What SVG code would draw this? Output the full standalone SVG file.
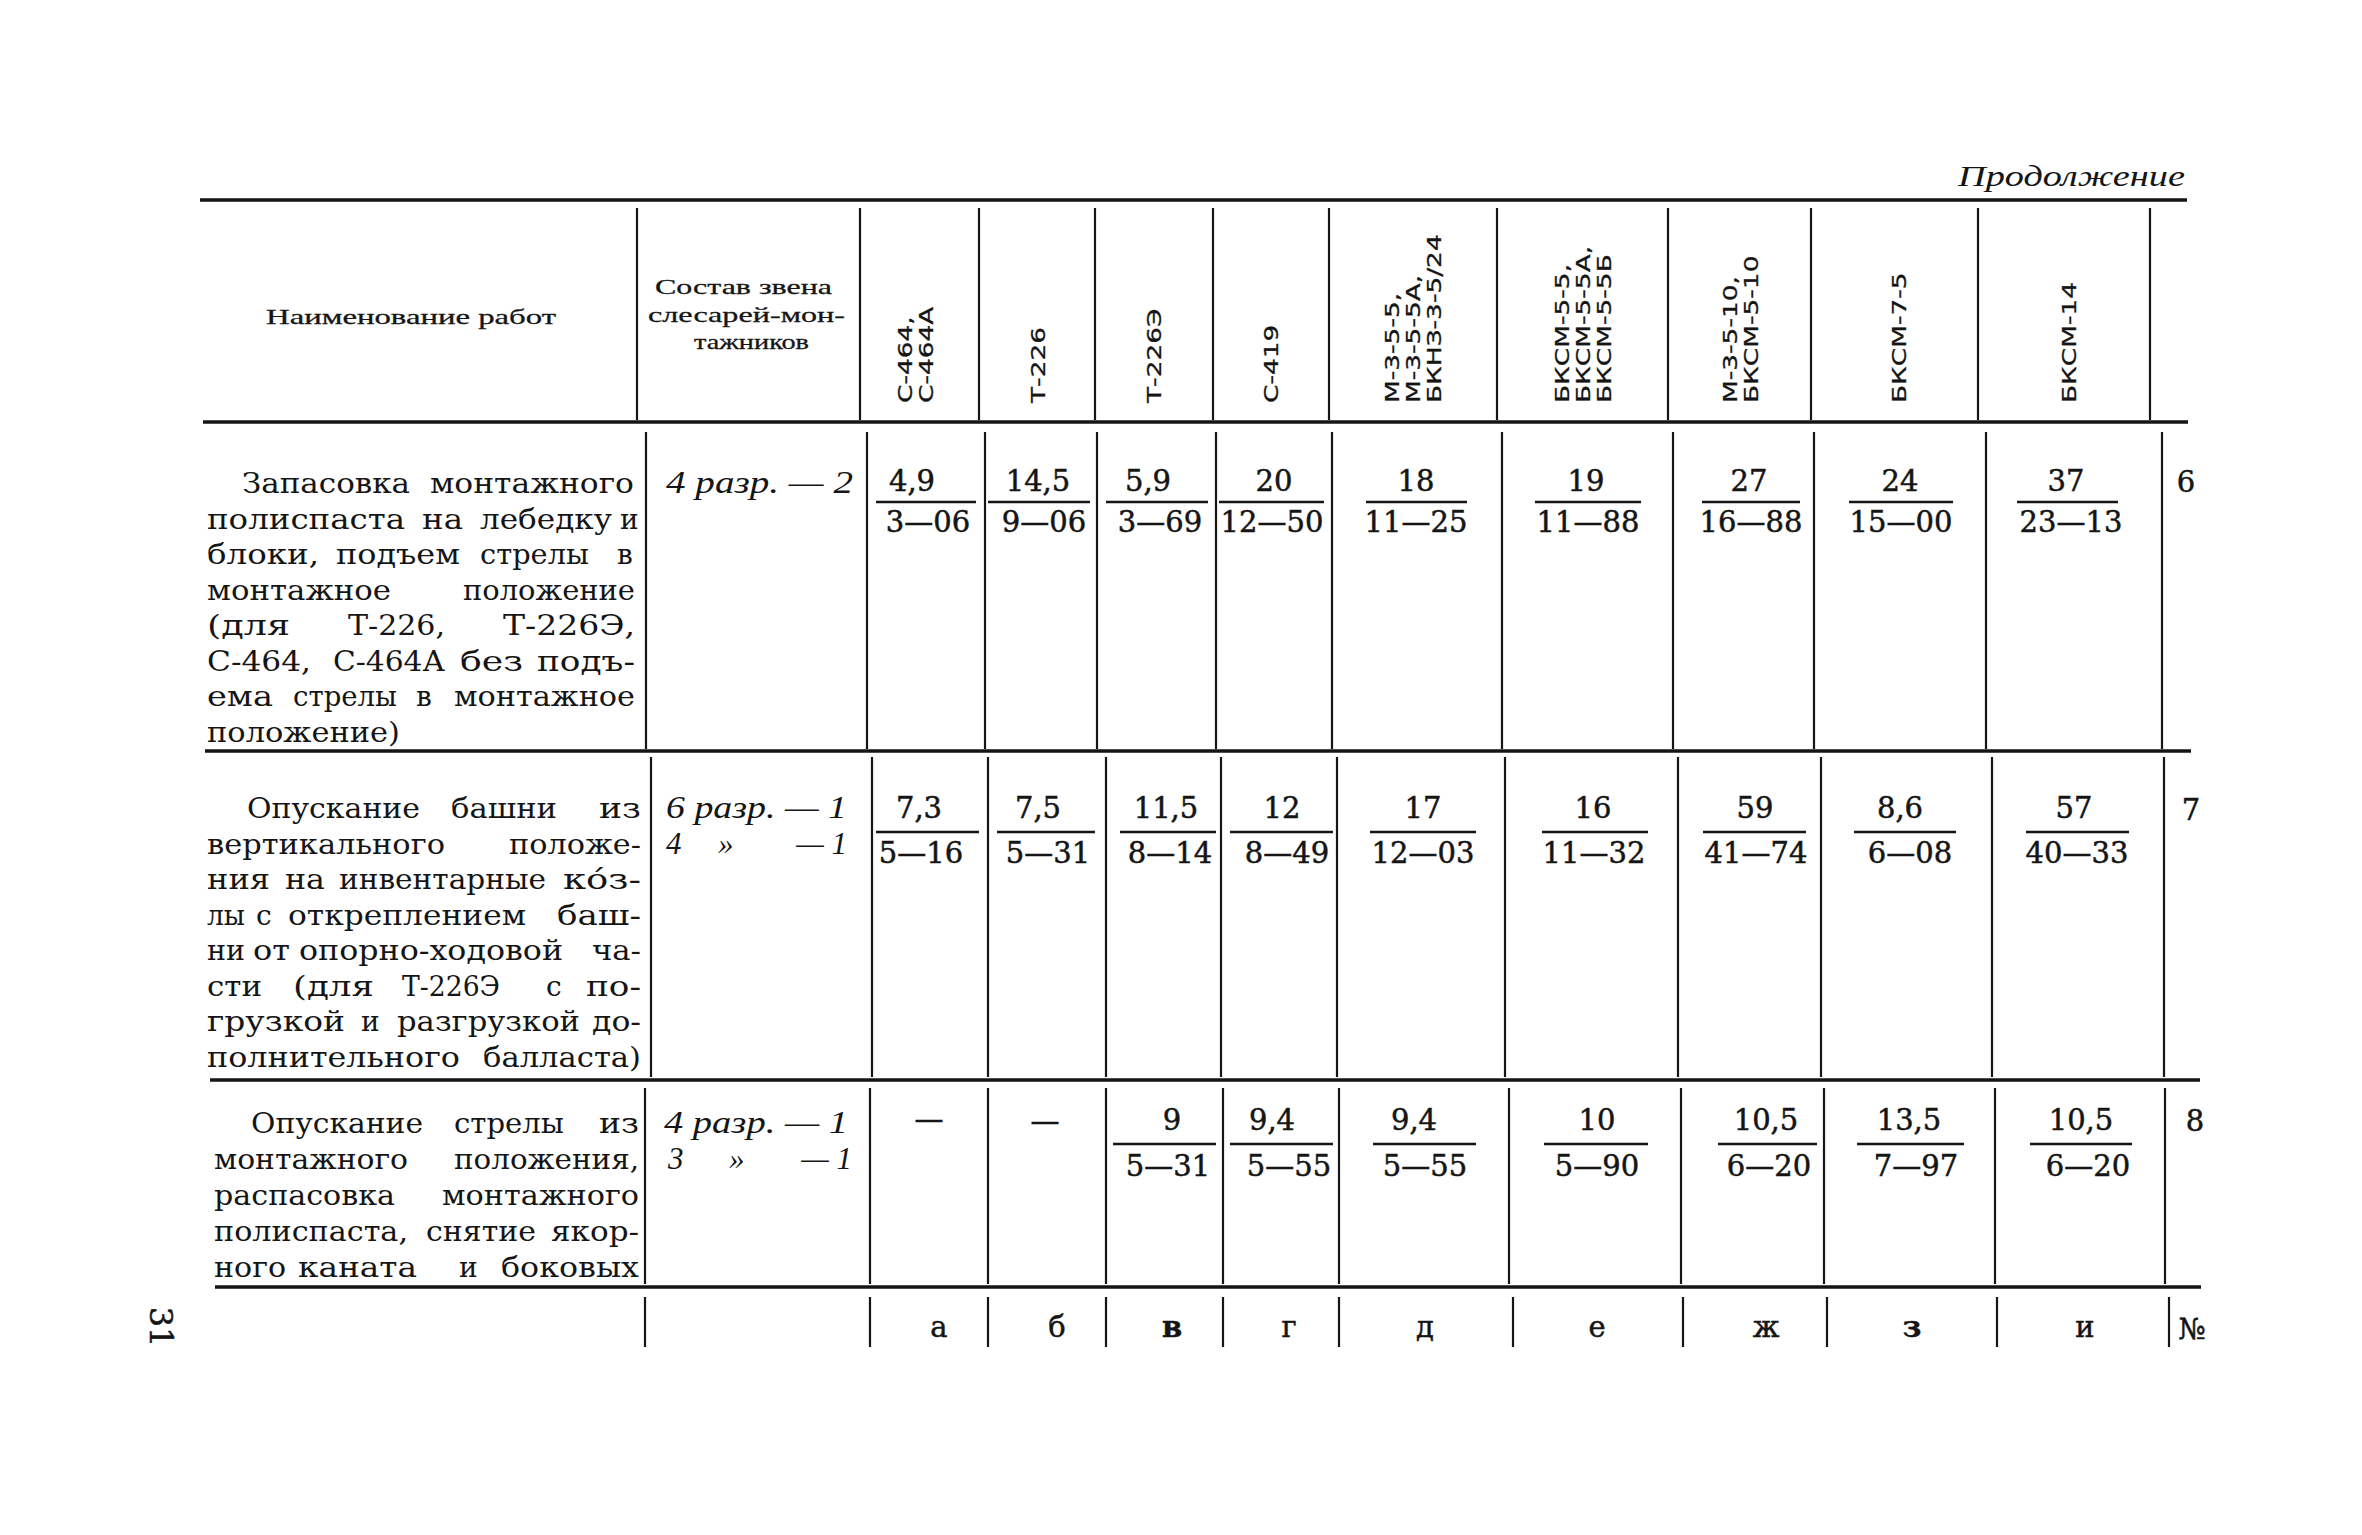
<svg xmlns="http://www.w3.org/2000/svg" width="2362" height="1535" viewBox="0 0 2362 1535">
<style>
.g{stroke:#151515;stroke-width:2.2;fill:none}
.h{stroke:#151515;stroke-width:3.4;fill:none}
.bar{stroke:#151515;stroke-width:2.6}
text{fill:#151515}
.b{font-family:"DejaVu Serif","Liberation Serif",serif;font-size:28px}
.n{font-family:"DejaVu Serif","Liberation Serif",serif;font-size:29px;text-anchor:middle;stroke:#151515;stroke-width:0.5}
.i{font-family:"Liberation Serif",serif;font-style:italic;font-size:31px}
.r{font-family:"DejaVu Sans","Liberation Sans",sans-serif;font-size:20px;stroke:#151515;stroke-width:0.3}
.hd{font-family:"Liberation Serif",serif;font-size:22px;stroke:#151515;stroke-width:0.3}
.e{text-anchor:end}
.m{text-anchor:middle}
.bo{font-weight:bold}
</style>
<rect width="2362" height="1535" fill="#ffffff"/>

<g id="title">
<text class="i" x="1958" y="186" textLength="227" lengthAdjust="spacingAndGlyphs" style="font-size:29px">Продолжение</text>
</g>

<g id="grid">
<line class="h" x1="200" y1="200" x2="2187" y2="200"/>
<line class="h" x1="203" y1="422" x2="2188" y2="422"/>
<line class="h" x1="205" y1="751" x2="2191" y2="751"/>
<line class="h" x1="210" y1="1080" x2="2200" y2="1080"/>
<line class="h" x1="215" y1="1287" x2="2201" y2="1287"/>
<path class="g" d="M637 208V420M860 208V420M979 208V420M1095 208V420M1213 208V420M1329 208V420M1497 208V420M1668 208V420M1811 208V420M1978 208V420M2150 208V420"/>
<path class="g" d="M646 432V749M867 432V749M985 432V749M1097 432V749M1216 432V749M1332 432V749M1502 432V749M1673 432V749M1814 432V749M1986 432V749M2162 432V749"/>
<path class="g" d="M651 757V1077M872 757V1077M988 757V1077M1106 757V1077M1221 757V1077M1337 757V1077M1505 757V1077M1678 757V1077M1821 757V1077M1992 757V1077M2164 757V1077"/>
<path class="g" d="M645 1088V1284M870 1088V1284M988 1088V1284M1106 1088V1284M1223 1088V1284M1339 1088V1284M1509 1088V1284M1681 1088V1284M1824 1088V1284M1995 1088V1284M2165 1088V1284"/>
<path class="g" d="M645 1297V1347M870 1297V1347M988 1297V1347M1106 1297V1347M1223 1297V1347M1339 1297V1347M1513 1297V1347M1683 1297V1347M1827 1297V1347M1997 1297V1347M2169 1297V1347"/>
</g>

<g id="header">
<text class="hd" x="266" y="324" textLength="290" lengthAdjust="spacingAndGlyphs">Наименование работ</text>
<text class="hd" x="655" y="294" textLength="177" lengthAdjust="spacingAndGlyphs">Состав звена</text>
<text class="hd" x="648" y="322" textLength="197" lengthAdjust="spacingAndGlyphs">слесарей-мон-</text>
<text class="hd" x="694" y="349" textLength="115" lengthAdjust="spacingAndGlyphs">тажников</text>
<text class="r" transform="translate(912,403) rotate(-90) scale(1.32,1)">С-464,</text>
<text class="r" transform="translate(933,403) rotate(-90) scale(1.32,1)">С-464А</text>
<text class="r" transform="translate(1045,403) rotate(-90) scale(1.32,1)">Т-226</text>
<text class="r" transform="translate(1161,403) rotate(-90) scale(1.32,1)">Т-226Э</text>
<text class="r" transform="translate(1278,403) rotate(-90) scale(1.32,1)">С-419</text>
<text class="r" transform="translate(1399,403) rotate(-90) scale(1.32,1)">М-3-5-5,</text>
<text class="r" transform="translate(1420,403) rotate(-90) scale(1.32,1)">М-3-5-5А,</text>
<text class="r" transform="translate(1441,403) rotate(-90) scale(1.32,1)">БКНЗ-3-5/24</text>
<text class="r" transform="translate(1569,403) rotate(-90) scale(1.32,1)">БКСМ-5-5,</text>
<text class="r" transform="translate(1590,403) rotate(-90) scale(1.32,1)">БКСМ-5-5А,</text>
<text class="r" transform="translate(1611,403) rotate(-90) scale(1.32,1)">БКСМ-5-5Б</text>
<text class="r" transform="translate(1737,403) rotate(-90) scale(1.32,1)">М-3-5-10,</text>
<text class="r" transform="translate(1758,403) rotate(-90) scale(1.32,1)">БКСМ-5-10</text>
<text class="r" transform="translate(1906,403) rotate(-90) scale(1.32,1)">БКСМ-7-5</text>
<text class="r" transform="translate(2076,403) rotate(-90) scale(1.32,1)">БКСМ-14</text>
</g>

<g id="row6">
<g class="b">
<text x="242" y="493" textLength="168" lengthAdjust="spacingAndGlyphs">Запасовка</text>
<text x="430" y="493" textLength="204" lengthAdjust="spacingAndGlyphs">монтажного</text>
<text x="207" y="529" textLength="198" lengthAdjust="spacingAndGlyphs">полиспаста</text>
<text x="422" y="529" textLength="41" lengthAdjust="spacingAndGlyphs">на</text>
<text x="480" y="529" textLength="132" lengthAdjust="spacingAndGlyphs">лебедку</text>
<text x="620" y="529">и</text>
<text x="207" y="564" textLength="112" lengthAdjust="spacingAndGlyphs">блоки,</text>
<text x="336" y="564" textLength="124" lengthAdjust="spacingAndGlyphs">подъем</text>
<text x="480" y="564" textLength="109" lengthAdjust="spacingAndGlyphs">стрелы</text>
<text x="617" y="564">в</text>
<text x="207" y="600" textLength="184" lengthAdjust="spacingAndGlyphs">монтажное</text>
<text x="463" y="600" textLength="172" lengthAdjust="spacingAndGlyphs">положение</text>
<text x="207" y="635" textLength="83" lengthAdjust="spacingAndGlyphs">(для</text>
<text x="348" y="635" textLength="97" lengthAdjust="spacingAndGlyphs">Т-226,</text>
<text x="503" y="635" textLength="132" lengthAdjust="spacingAndGlyphs">Т-226Э,</text>
<text x="207" y="671" textLength="104" lengthAdjust="spacingAndGlyphs">С-464,</text>
<text x="333" y="671" textLength="112" lengthAdjust="spacingAndGlyphs">С-464А</text>
<text x="460" y="671" textLength="63" lengthAdjust="spacingAndGlyphs">без</text>
<text x="537" y="671" textLength="98" lengthAdjust="spacingAndGlyphs">подъ-</text>
<text x="207" y="706" textLength="66" lengthAdjust="spacingAndGlyphs">ема</text>
<text x="293" y="706" textLength="104" lengthAdjust="spacingAndGlyphs">стрелы</text>
<text x="416" y="706">в</text>
<text x="454" y="706" textLength="181" lengthAdjust="spacingAndGlyphs">монтажное</text>
<text x="207" y="742" textLength="193" lengthAdjust="spacingAndGlyphs">положение)</text>
</g>
<text class="i" x="666" y="493" textLength="187" lengthAdjust="spacingAndGlyphs">4 разр. — 2</text>
<g class="n">
<text x="912" y="491">4,9</text><text x="928" y="532">3—06</text>
<text x="1038" y="491">14,5</text><text x="1044" y="532">9—06</text>
<text x="1148" y="491">5,9</text><text x="1160" y="532">3—69</text>
<text x="1274" y="491">20</text><text x="1272" y="532">12—50</text>
<text x="1416" y="491">18</text><text x="1416" y="532">11—25</text>
<text x="1586" y="491">19</text><text x="1588" y="532">11—88</text>
<text x="1749" y="491">27</text><text x="1751" y="532">16—88</text>
<text x="1900" y="491">24</text><text x="1901" y="532">15—00</text>
<text x="2066" y="491">37</text><text x="2071" y="532">23—13</text>
<text x="2186" y="492">6</text>
</g>
<path class="bar" d="M876 502H976M988 502H1090M1106 502H1208M1219 502H1324M1366 502H1467M1535 502H1641M1702 502H1800M1849 502H1953M2017 502H2118"/>
</g>

<g id="row7">
<g class="b">
<text x="247" y="818" textLength="173" lengthAdjust="spacingAndGlyphs">Опускание</text>
<text x="451" y="818" textLength="106" lengthAdjust="spacingAndGlyphs">башни</text>
<text x="599" y="818" textLength="42" lengthAdjust="spacingAndGlyphs">из</text>
<text x="207" y="854" textLength="238" lengthAdjust="spacingAndGlyphs">вертикального</text>
<text x="509" y="854" textLength="132" lengthAdjust="spacingAndGlyphs">положе-</text>
<text x="207" y="889" textLength="63" lengthAdjust="spacingAndGlyphs">ния</text>
<text x="285" y="889" textLength="40" lengthAdjust="spacingAndGlyphs">на</text>
<text x="339" y="889" textLength="207" lengthAdjust="spacingAndGlyphs">инвентарные</text>
<text x="563" y="889" textLength="78" lengthAdjust="spacingAndGlyphs">ко́з-</text>
<text x="207" y="925" textLength="38" lengthAdjust="spacingAndGlyphs">лы</text>
<text x="256" y="925">с</text>
<text x="288" y="925" textLength="238" lengthAdjust="spacingAndGlyphs">откреплением</text>
<text x="557" y="925" textLength="84" lengthAdjust="spacingAndGlyphs">баш-</text>
<text x="207" y="960" textLength="38" lengthAdjust="spacingAndGlyphs">ни</text>
<text x="253" y="960" textLength="37" lengthAdjust="spacingAndGlyphs">от</text>
<text x="299" y="960" textLength="264" lengthAdjust="spacingAndGlyphs">опорно-ходовой</text>
<text x="592" y="960" textLength="49" lengthAdjust="spacingAndGlyphs">ча-</text>
<text x="207" y="996" textLength="55" lengthAdjust="spacingAndGlyphs">сти</text>
<text x="293" y="996" textLength="81" lengthAdjust="spacingAndGlyphs">(для</text>
<text x="402" y="996" textLength="98" lengthAdjust="spacingAndGlyphs">Т-226Э</text>
<text x="546" y="996">с</text>
<text x="586" y="996" textLength="55" lengthAdjust="spacingAndGlyphs">по-</text>
<text x="207" y="1031" textLength="138" lengthAdjust="spacingAndGlyphs">грузкой</text>
<text x="361" y="1031">и</text>
<text x="397" y="1031" textLength="183" lengthAdjust="spacingAndGlyphs">разгрузкой</text>
<text x="592" y="1031" textLength="49" lengthAdjust="spacingAndGlyphs">до-</text>
<text x="207" y="1067" textLength="253" lengthAdjust="spacingAndGlyphs">полнительного</text>
<text x="483" y="1067" textLength="158" lengthAdjust="spacingAndGlyphs">балласта)</text>
</g>
<text class="i" x="666" y="818" textLength="181" lengthAdjust="spacingAndGlyphs">6 разр. — 1</text>
<text class="i" x="666" y="854">4</text>
<text class="i" x="718" y="854">»</text>
<text class="i e" x="847" y="854">— 1</text>
<g class="n">
<text x="919" y="818">7,3</text><text x="921" y="863">5—16</text>
<text x="1038" y="818">7,5</text><text x="1048" y="863">5—31</text>
<text x="1166" y="818">11,5</text><text x="1170" y="863">8—14</text>
<text x="1282" y="818">12</text><text x="1287" y="863">8—49</text>
<text x="1423" y="818">17</text><text x="1423" y="863">12—03</text>
<text x="1593" y="818">16</text><text x="1594" y="863">11—32</text>
<text x="1755" y="818">59</text><text x="1756" y="863">41—74</text>
<text x="1900" y="818">8,6</text><text x="1910" y="863">6—08</text>
<text x="2074" y="818">57</text><text x="2077" y="863">40—33</text>
<text x="2191" y="820">7</text>
</g>
<path class="bar" d="M876 832H979M997 832H1095M1120 832H1216M1230 832H1333M1370 832H1476M1542 832H1648M1703 832H1806M1854 832H1956M2026 832H2129"/>
</g>

<g id="row8">
<g class="b">
<text x="251" y="1133" textLength="172" lengthAdjust="spacingAndGlyphs">Опускание</text>
<text x="454" y="1133" textLength="110" lengthAdjust="spacingAndGlyphs">стрелы</text>
<text x="599" y="1133" textLength="40" lengthAdjust="spacingAndGlyphs">из</text>
<text x="214" y="1169" textLength="194" lengthAdjust="spacingAndGlyphs">монтажного</text>
<text x="454" y="1169" textLength="185" lengthAdjust="spacingAndGlyphs">положения,</text>
<text x="214" y="1205" textLength="181" lengthAdjust="spacingAndGlyphs">распасовка</text>
<text x="442" y="1205" textLength="197" lengthAdjust="spacingAndGlyphs">монтажного</text>
<text x="214" y="1241" textLength="194" lengthAdjust="spacingAndGlyphs">полиспаста,</text>
<text x="426" y="1241" textLength="110" lengthAdjust="spacingAndGlyphs">снятие</text>
<text x="551" y="1241" textLength="88" lengthAdjust="spacingAndGlyphs">якор-</text>
<text x="214" y="1277" textLength="72" lengthAdjust="spacingAndGlyphs">ного</text>
<text x="298" y="1277" textLength="119" lengthAdjust="spacingAndGlyphs">каната</text>
<text x="459" y="1277">и</text>
<text x="501" y="1277" textLength="138" lengthAdjust="spacingAndGlyphs">боковых</text>
</g>
<text class="i" x="664" y="1133" textLength="184" lengthAdjust="spacingAndGlyphs">4 разр. — 1</text>
<text class="i" x="668" y="1169">3</text>
<text class="i" x="729" y="1169">»</text>
<text class="i e" x="852" y="1169">— 1</text>
<g class="n">
<text x="929" y="1129">—</text>
<text x="1045" y="1131">—</text>
<text x="1172" y="1130">9</text><text x="1168" y="1176">5—31</text>
<text x="1272" y="1130">9,4</text><text x="1289" y="1176">5—55</text>
<text x="1414" y="1130">9,4</text><text x="1425" y="1176">5—55</text>
<text x="1597" y="1130">10</text><text x="1597" y="1176">5—90</text>
<text x="1766" y="1130">10,5</text><text x="1769" y="1176">6—20</text>
<text x="1909" y="1130">13,5</text><text x="1916" y="1176">7—97</text>
<text x="2081" y="1130">10,5</text><text x="2088" y="1176">6—20</text>
<text x="2195" y="1131">8</text>
</g>
<path class="bar" d="M1113 1144H1216M1230 1144H1333M1373 1144H1476M1544 1144H1648M1718 1144H1817M1857 1144H1964M2030 1144H2132"/>
</g>

<g id="letters" class="n">
<text x="939" y="1337">а</text>
<text x="1057" y="1337">б</text>
<text x="1172" y="1337" class="bo">в</text>
<text x="1289" y="1337">г</text>
<text x="1425" y="1337">д</text>
<text x="1597" y="1337">е</text>
<text x="1766" y="1337">ж</text>
<text x="1912" y="1337" class="bo">з</text>
<text x="2085" y="1337">и</text>
<text x="2192" y="1339">№</text>
</g>

<g id="page">
<text class="n" transform="translate(150,1327) rotate(90)" style="font-size:32px">31</text>
</g>
</svg>
